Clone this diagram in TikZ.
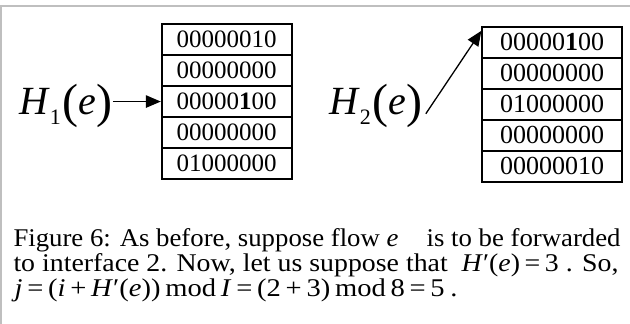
\documentclass[tikz,border=0pt]{standalone}
\usepackage{fontspec}
\setmainfont{Liberation Serif}
\usetikzlibrary{arrows.meta}
\newcommand{\hbig}{\fontsize{40}{40}\selectfont}
\newcommand{\hsub}{\fontsize{22}{22}\selectfont}
\newcommand{\hpar}{\fontsize{48}{48}\selectfont}
\newcommand{\Hofe}[1]{\hbig\textit{H}\raisebox{-10pt}{\hsub #1}\hspace{2pt}\raisebox{-3pt}{\hpar(}\textit{e}\raisebox{-3pt}{\hpar)}}
\newcommand{\capline}[2]{\resizebox{#1}{\height}{#2}}
\begin{document}
\begin{tikzpicture}[x=1pt,y=-1pt,
  frame/.style={line width=2.5pt, draw=black!25},
  cellL/.style={draw, line width=1.8pt, minimum width=130pt, minimum height=30.9pt, inner sep=0pt, font=\fontsize{25}{25}\selectfont},
  cellR/.style={draw, line width=1.8pt, minimum width=139.4pt, minimum height=31pt, inner sep=0pt, font=\fontsize{26}{26}\selectfont},
  hlabel/.style={anchor=base west, inner sep=0pt},
  arr/.style={line width=1.3pt, -{Triangle[length=15pt,width=12.5pt]}},
  captext/.style={anchor=base west, inner sep=0pt, font=\fontsize{25.5}{25.5}\selectfont}]
\useasboundingbox (0,0) rectangle (630,324);
\draw[frame] (630,6) -- (1.2,6) -- (1.2,324);
% left table
\node[cellL] (a1) at (226.7,39.75) {00000010};
\node[cellL] (a2) at (226.7,70.65) {00000000};
\node[cellL] (a3) at (226.7,101.55) {00000\textbf{1}00};
\node[cellL] (a4) at (226.7,132.45) {00000000};
\node[cellL] (a5) at (226.7,163.35) {01000000};
% right table
\node[cellR] (b1) at (552,42.2) {00000\textbf{1}00};
\node[cellR] (b2) at (552,73.2) {00000000};
\node[cellR] (b3) at (552,104.2) {01000000};
\node[cellR] (b4) at (552,135.2) {00000000};
\node[cellR] (b5) at (552,166.2) {00000010};
% labels
\node[hlabel] (h1) at (19,114.3) {\Hofe{1}};
\node[hlabel] (h2) at (329,114.3) {\Hofe{2}};
% arrows
\draw[arr] (h1.east |- a3.west) -- (a3.west);
\draw[arr] ([xshift=3pt,yshift=-8pt]h2.east) -- ([yshift=-5pt]b1.north west);
% caption
\node[captext] (c1) at (13.3,246) {\capline{607pt}{Figure 6: As before, suppose flow \textit{e}\hspace{0.8em} is to be forwarded}};
\node[captext] (c2) at (13.3,271.3) {\capline{605pt}{to interface 2. Now, let us suppose that \hspace{0.25em}\textit{H}′(\textit{e})\,=\,3 . So,}};
\node[captext] (c3) at (13.3,296) {\capline{444pt}{\hspace{1pt}\textit{j}\,=\,(\textit{i}\,+\,\textit{H}′(\textit{e}))\,mod\,\textit{I}\,=\,(2\,+\,3)\,mod\,8\,=\,5\hspace{5pt}.}};
\end{tikzpicture}
\end{document}
